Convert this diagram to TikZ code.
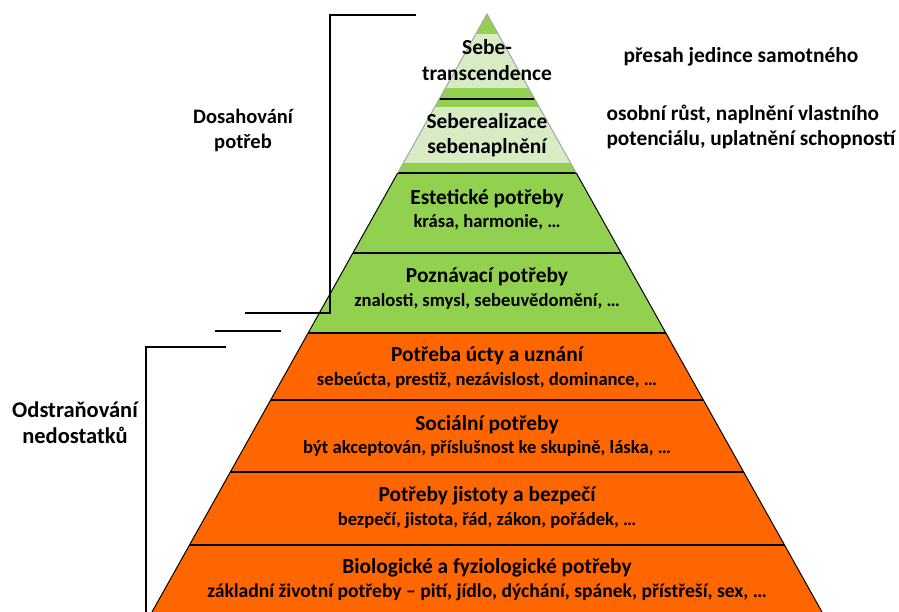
\documentclass[tikz,border=0pt]{standalone}
\usepackage{fontspec}
\setmainfont{Carlito}
\usetikzlibrary{positioning}

\definecolor{needgreen}{HTML}{92D050}
\definecolor{palegreen}{HTML}{D8EBC4}
\definecolor{needorange}{HTML}{FF6600}

\tikzset{
  title/.style={anchor=base, font=\bfseries\fontsize{21.4}{25}\selectfont},
  sub/.style={anchor=base, font=\bfseries\fontsize{18.6}{22}\selectfont},
  side/.style={font=\bfseries\fontsize{21.3}{25}\selectfont, align=center},
  layer/.style={black, line width=1.5pt},
  bracket/.style={black, line width=1.6pt}
}

\begin{document}
\begin{tikzpicture}[x=1pt,y=-1pt]
  \useasboundingbox (0,0) rectangle (899,612);
  \coordinate (apex) at (487,14);
  \coordinate (bl) at (152,612);
  \coordinate (br) at (822,612);
  \coordinate (ml) at (397.7,173);
  \coordinate (mr) at (576.3,173);
  % layers
  \begin{scope}
    \clip (apex) -- (bl) -- (br) -- cycle;
    \fill [needgreen]  (0,0) rectangle (899,333);
    \fill [palegreen]  (0,34) rectangle (899,88);
    \fill [palegreen]  (0,107) rectangle (899,163);
    \fill [needorange] (0,333) rectangle (899,612);
    \foreach \y in {99,173,253,333,400,472,545}
      \draw [layer] (0,\y) -- (899,\y);
  \end{scope}
  \draw [gray!70, line width=1pt] (ml) -- (apex) -- (mr);
  \draw [black, line width=1pt] (ml) -- (bl) (mr) -- (br);
  % texts in the pyramid
  \node [title] (sebe)    at (487,55)  {Sebe-};
  \node [title] (transc)  at (487,81)  {transcendence};
  \node [title] (realiz)  at (487,129) {Seberealizace};
  \node [title] (naplneni) at (487,154) {sebenaplnění};
  \node [title] (estet)   at (487,205) {Estetické potřeby};
  \node [sub]   (estetS)  at (487,228) {krása, harmonie, …};
  \node [title] (pozn)    at (487,283) {Poznávací potřeby};
  \node [sub]   (poznS)   at (487,306) {znalosti, smysl, sebeuvědomění, …};
  \node [title] (ucta)    at (487,361) {Potřeba úcty a uznání};
  \node [sub]   (uctaS)   at (487,385) {sebeúcta, prestiž, nezávislost, dominance, …};
  \node [title] (social)  at (487,430) {Sociální potřeby};
  \node [sub]   (socialS) at (487,453) {být akceptován, příslušnost ke skupině, láska, …};
  \node [title] (jistota) at (487,501) {Potřeby jistoty a bezpečí};
  \node [sub]   (jistotaS) at (487,525) {bezpečí, jistota, řád, zákon, pořádek, …};
  \node [title] (bio)     at (487,573) {Biologické a fyziologické potřeby};
  \node [sub, font=\bfseries\fontsize{19.6}{23}\selectfont] (bioS) at (487,597)
    {základní životní potřeby – pití, jídlo, dýchání, spánek, přístřeší, sex, …};
  % side texts
  \node [title] (presah) at (741,63) {přesah jedince samotného};
  \node [side, anchor=north west, align=left] (rust) at (603,102)
    {osobní růst, naplnění vlastního\\potenciálu, uplatnění schopností};
  \node [side, font=\bfseries\fontsize{20.5}{25}\selectfont] (dosah) at (243,130) {Dosahování\\potřeb};
  \node [side, font=\bfseries\fontsize{22.5}{26}\selectfont] (odstr) at (75,423) {Odstraňování\\nedostatků};
  % brackets
  \draw [bracket] (416,15) -- (330,15) -- (330,313) -- (245,313);
  \draw [bracket] (215,331) -- (281,331);
  \draw [bracket] (226,347) -- (146,347) -- (146,612);
\end{tikzpicture}
\end{document}
